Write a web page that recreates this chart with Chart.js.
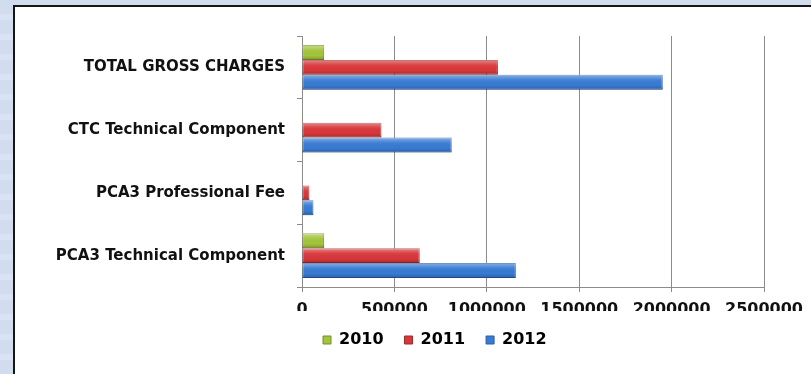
<!DOCTYPE html>
<html>
<head>
<meta charset="utf-8">
<script src="https://cdn.jsdelivr.net/npm/chart.js@4/dist/chart.umd.min.js"></script>
<style>
  html, body { margin: 0; padding: 0; }
  body {
    width: 811px; height: 374px; overflow: hidden; position: relative;
    background: repeating-linear-gradient(0deg, #d2dcef 0px, #d2dcef 14px, #dae3f3 14px, #dae3f3 20px);
  }
  .frame {
    position: absolute; left: 13px; top: 5px; width: 820px; height: 400px;
    background: #fff; border: 2px solid #161616;
  }
  #charges { position: absolute; left: 0; top: 0; }
</style>
</head>
<body>
<div class="frame"></div>
<canvas id="charges" width="811" height="374"></canvas>
<script>
const categories = [
  "TOTAL GROSS CHARGES",
  "CTC Technical Component",
  "PCA3 Professional Fee",
  "PCA3 Technical Component"
];
const years = ["2010", "2011", "2012"];
const charges2010 = [120000, 4000, 3000, 120000];
const charges2011 = [1060000, 430000, 40000, 637000];
const charges2012 = [1952000, 810000, 62000, 1157000];
const xTicks = [0, 500000, 1000000, 1500000, 2000000, 2500000];

const fills = ["#a3c43b", "#d8373a", "#387bd3"];
const edges = ["#74902a", "#9e2a2c", "#2a5da6"];

// glossy shading on top of each bar
const barGloss = {
  id: "barGloss",
  afterDatasetsDraw(chart) {
    const ctx = chart.ctx;
    chart.data.datasets.forEach((ds, i) => {
      chart.getDatasetMeta(i).data.forEach(bar => {
        const x0 = Math.min(bar.base, bar.x), x1 = Math.max(bar.base, bar.x);
        const y0 = bar.y - bar.height / 2, h = bar.height;
        if (x1 - x0 < 0.5) return;
        const g = ctx.createLinearGradient(0, y0, 0, y0 + h);
        g.addColorStop(0, "rgba(255,255,255,0.4)");
        g.addColorStop(0.35, "rgba(255,255,255,0.05)");
        g.addColorStop(0.7, "rgba(0,0,0,0)");
        g.addColorStop(1, "rgba(0,0,0,0.22)");
        ctx.save();
        ctx.fillStyle = g;
        ctx.fillRect(x0, y0, x1 - x0, h);
        ctx.restore();
      });
    });
  }
};

const labelFont = { family: "DejaVu Sans", weight: "bold", size: 15 };
const numFont = { family: "DejaVu Sans", weight: "bold", size: 16 };

new Chart(document.getElementById("charges").getContext("2d"), {
  type: "bar",
  data: {
    labels: categories,
    datasets: [charges2010, charges2011, charges2012].map((vals, i) => ({
      label: years[i],
      data: vals,
      backgroundColor: fills[i],
      borderColor: edges[i],
      borderWidth: 1,
      borderSkipped: false
    }))
  },
  options: {
    indexAxis: "y",
    responsive: false,
    animation: false,
    layout: { padding: { left: 0, right: 46, top: 36, bottom: 16 } },
    datasets: { bar: { categoryPercentage: 0.71, barPercentage: 1 } },
    scales: {
      x: {
        min: 0,
        max: 2500000,
        afterBuildTicks: scale => { scale.ticks = xTicks.map(v => ({ value: v })); },
        afterFit: scale => { scale.height = 24; },
        grid: { color: "#8c8c8c", lineWidth: 1, tickLength: 5 },
        border: { color: "#8c8c8c" },
        ticks: { color: "#111", font: numFont, padding: 8, maxRotation: 0, callback: v => String(v) }
      },
      y: {
        afterFit: scale => { scale.width = 302; },
        grid: { drawOnChartArea: false, color: "#8c8c8c", tickLength: 5, offset: true },
        border: { color: "#8c8c8c" },
        ticks: { color: "#111", font: labelFont, padding: 12 }
      }
    },
    plugins: {
      legend: {
        position: "bottom",
        fullSize: false,
        align: "start",
        labels: {
          color: "#111",
          font: numFont,
          boxWidth: 8,
          boxHeight: 8,
          padding: 21,
          generateLabels: chart => chart.data.datasets.map((ds, i) => ({
            text: ds.label,
            fillStyle: fills[i],
            strokeStyle: edges[i],
            lineWidth: 1,
            datasetIndex: i
          }))
        }
      },
      tooltip: { enabled: false }
    }
  },
  plugins: [barGloss]
});
</script>
</body>
</html>
